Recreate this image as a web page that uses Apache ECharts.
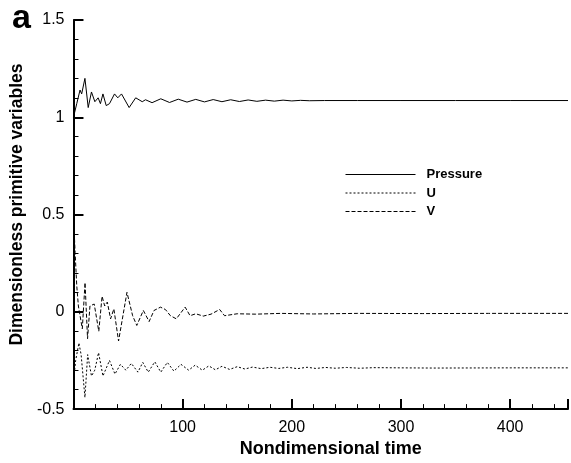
<!DOCTYPE html>
<html>
<head>
<meta charset="utf-8">
<script src="https://cdn.jsdelivr.net/npm/echarts@6/dist/echarts.min.js"></script>
<style>html,body{margin:0;padding:0;background:#fff}#c{width:571px;height:463px}</style>
</head>
<body>
<div id="c"></div>
<script>
var seriesNames = ["Pressure", "U", "V"];
var xTicks = [100, 200, 300, 400];
var yTicks = [-0.5, 0, 0.5, 1, 1.5];

var pressureTime = [0, 3, 6, 7.5, 10.5, 13.5, 16.5, 19.6, 22.6, 24.7, 27, 30, 33, 37.6, 40.6, 44, 51, 57, 63, 66,
  72, 80, 88, 96, 104, 112, 120, 128, 136, 144, 152, 160, 168, 176, 184, 192, 200, 208, 216, 230, 260, 300, 350, 400, 453];
var pressureVal = [1.00, 1.07, 1.14, 1.12, 1.20, 1.05, 1.13, 1.08, 1.10, 1.07, 1.12, 1.06, 1.07, 1.12, 1.10, 1.12, 1.05, 1.10, 1.08, 1.09,
  1.075, 1.095, 1.076, 1.093, 1.078, 1.092, 1.079, 1.091, 1.080, 1.090, 1.081, 1.089, 1.082, 1.088, 1.083, 1.088, 1.084, 1.087, 1.085, 1.086, 1.086, 1.086, 1.086, 1.086, 1.086];

var uTime = [0, 2, 5, 7, 10.5, 13, 16.5, 19.5, 23, 27, 33, 38, 43, 48, 53, 59, 63.5, 68.5, 74.5, 80, 86, 92, 98.5, 105.5, 111.5,
  118, 124, 130, 136, 143, 150, 157, 164, 172, 180, 188, 196, 205, 214, 222, 231, 240, 250, 262, 275, 300, 330, 400, 453];
var uVal = [-0.36, -0.25, -0.16, -0.22, -0.44, -0.22, -0.33, -0.30, -0.21, -0.33, -0.25, -0.32, -0.27, -0.30, -0.265, -0.31, -0.26, -0.31, -0.257, -0.31, -0.26, -0.305, -0.27, -0.30, -0.274,
  -0.30, -0.278, -0.298, -0.28, -0.296, -0.282, -0.294, -0.284, -0.292, -0.285, -0.291, -0.285, -0.292, -0.285, -0.291, -0.286, -0.290, -0.286, -0.290, -0.287, -0.288, -0.289, -0.288, -0.288];

var vTime = [0, 1.5, 3, 4.5, 8.1, 10.6, 12.9, 15.1, 19, 23.2, 26.2, 28.6, 31, 34, 37, 41.3, 49, 54.2, 58, 64, 69.3, 73.8, 79.7, 84.2, 88.8,
  94.2, 102.3, 106.8, 112, 118.9, 126, 133.9, 138.4, 150, 167, 190, 220, 260, 320, 380, 453];
var vVal = [0.50, 0.305, 0.135, 0.03, -0.087, 0.15, -0.138, 0.03, 0.04, -0.10, 0.08, 0.03, 0.05, -0.036, 0.015, -0.15, 0.10, -0.02, -0.07, 0.007, -0.05, 0.007, 0.024, 0.012, -0.02,
  -0.036, 0.024, -0.02, -0.01, -0.022, -0.012, 0.012, -0.02, -0.01, -0.012, -0.008, -0.011, -0.008, -0.009, -0.008, -0.008];

function zip(t, v) { return t.map(function (x, i) { return [x, v[i]]; }); }

var FONT = '"Liberation Sans", Arial, Helvetica, sans-serif';
var chart = echarts.init(document.getElementById('c'), null, { renderer: 'canvas' });
chart.setOption({
  animation: false,
  backgroundColor: '#ffffff',
  grid: { left: 70, top: 20, right: 0, bottom: 52, containLabel: false },
  legend: {
    orient: 'vertical', left: 340, top: 163,
    itemWidth: 70, itemHeight: 14, itemGap: 5.5,
    data: seriesNames,
    textStyle: { fontFamily: FONT, fontWeight: 'bold', fontSize: 13, color: '#000', padding: [0, 0, 0, 6] },
    itemStyle: { opacity: 0, color: 'transparent', borderWidth: 0 },
    lineStyle: { width: 1 }
  },
  xAxis: {
    type: 'value', min: 0, max: 453, interval: 100,
    axisLine: { onZero: false, lineStyle: { color: '#000', width: 2 } },
    axisTick: { show: true, inside: true, length: 10, lineStyle: { color: '#000', width: 2 } },
    minorTick: { show: true, splitNumber: 5, length: 5, lineStyle: { color: '#000', width: 1 } },
    splitLine: { show: false },
    axisLabel: { fontFamily: FONT, fontSize: 16, color: '#000', margin: 10,
      formatter: function (v) { return xTicks.indexOf(v) >= 0 ? String(v) : ''; } },
    name: 'Nondimensional time', nameLocation: 'middle', nameGap: 30,
    nameTextStyle: { fontFamily: FONT, fontWeight: 'bold', fontSize: 18, color: '#000', padding: [0, 0, 0, 20] }
  },
  yAxis: {
    type: 'value', min: -0.5, max: 1.5, interval: 0.5,
    axisLine: { onZero: false, lineStyle: { color: '#000', width: 2 } },
    axisTick: { show: true, inside: true, length: 10, lineStyle: { color: '#000', width: 2 } },
    minorTick: { show: true, splitNumber: 5, length: 5, lineStyle: { color: '#000', width: 1 } },
    splitLine: { show: false },
    axisLabel: { fontFamily: FONT, fontSize: 16, color: '#000', margin: 9,
      formatter: function (v) { return String(Math.round(v * 10) / 10); } },
    name: 'Dimensionless primitive variables', nameLocation: 'middle', nameGap: 40,
    nameTextStyle: { fontFamily: FONT, fontWeight: 'bold', fontSize: 17.5, color: '#000', padding: [0, 0, 0, 20] }
  },
  graphic: [{
    type: 'text', left: 12, top: 2,
    style: { text: 'a', fontFamily: FONT, fontWeight: 'bold', fontSize: 34, fill: '#000' }
  }],
  series: [
    { name: 'Pressure', type: 'line', symbol: 'none', showSymbol: false, data: zip(pressureTime, pressureVal),
      lineStyle: { color: '#000', width: 1, type: 'solid' }, itemStyle: { color: '#000' } },
    { name: 'U', type: 'line', symbol: 'none', showSymbol: false, data: zip(uTime, uVal),
      lineStyle: { color: '#000', width: 1, type: [2, 2] }, itemStyle: { color: '#000' } },
    { name: 'V', type: 'line', symbol: 'none', showSymbol: false, data: zip(vTime, vVal),
      lineStyle: { color: '#000', width: 1, type: [4, 2] }, itemStyle: { color: '#000' } }
  ]
});
</script>
</body>
</html>
